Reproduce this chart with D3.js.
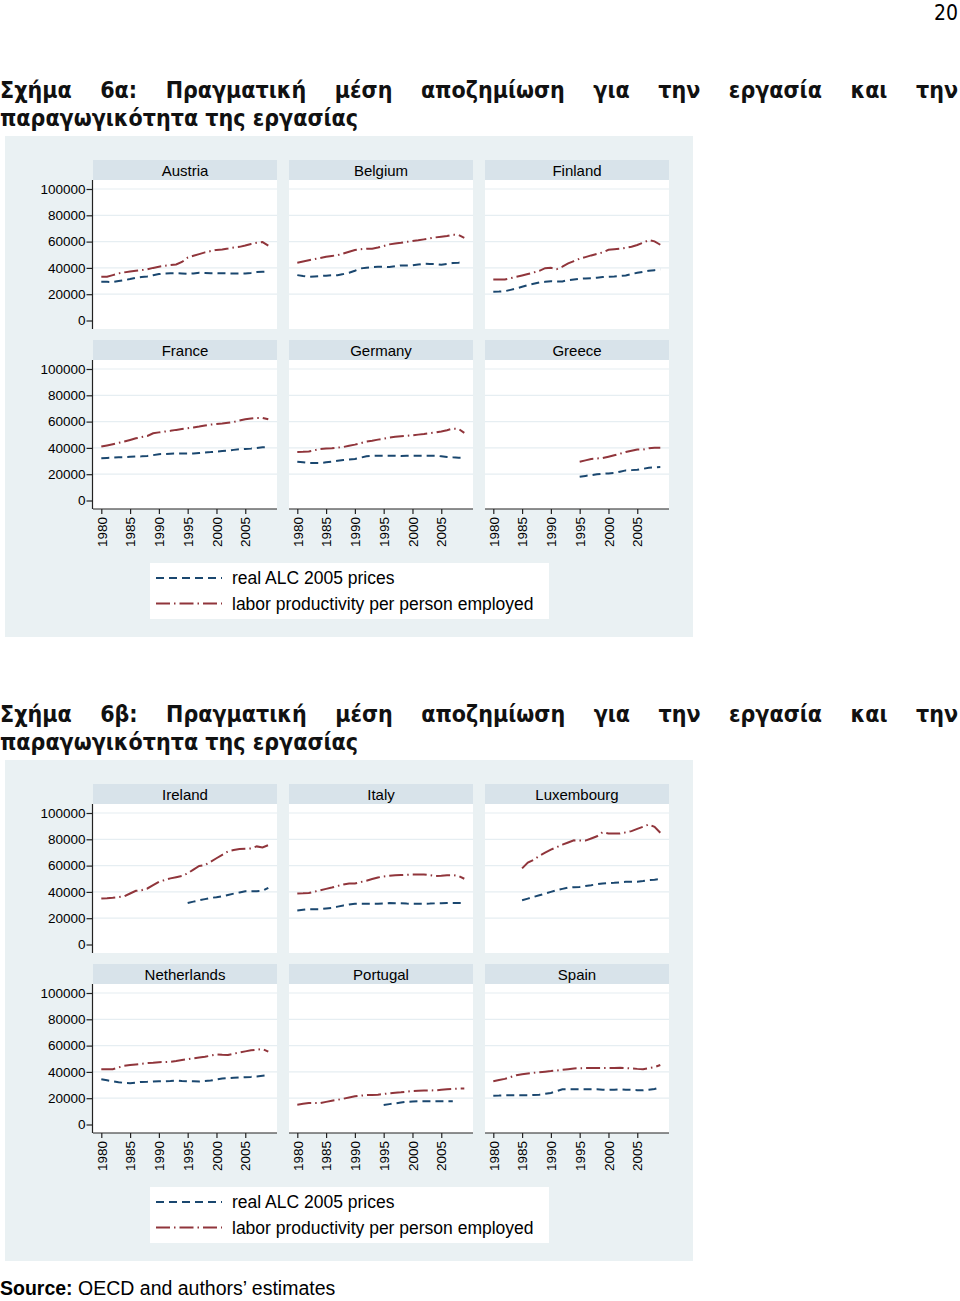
<!DOCTYPE html>
<html lang="el">
<head>
<meta charset="UTF-8">
<title>Σχήμα 6α - 6β</title>
<script src="https://cdn.jsdelivr.net/npm/d3@7/dist/d3.min.js"></script>
<style>
  body { margin: 0; background: #fff; }
  svg { display: block; }
</style>
</head>
<body>
<script>

let w = 960, h = 1301;

// years on the x axis, values in thousands
let years = d3.range(1980, 2010);
let xTicks = [1980, 1985, 1990, 1995, 2000, 2005];
let yTicks = [0, 20000, 40000, 60000, 80000, 100000];

let seriesNames = ["real ALC 2005 prices", "labor productivity per person employed"];

let countriesA = ["Austria", "Belgium", "Finland", "France", "Germany", "Greece"];
let countriesB = ["Ireland", "Italy", "Luxembourg", "Netherlands", "Portugal", "Spain"];

// labor productivity per person employed (thousands)
let lp = {
  Austria: [33.2,33.3,34.5,35.8,36.6,37.3,37.8,38.3,38.9,40.0,40.9,41.6,42.1,42.6,44.5,47.8,49.2,50.5,51.8,52.8,53.7,54.0,54.7,55.5,56.0,57.0,58.2,59.1,59.6,57.0],
  Belgium: [43.9,44.8,45.8,46.7,47.6,48.5,49.1,49.7,51.0,52.3,53.6,54.2,54.6,54.6,55.5,56.6,57.9,58.5,59.1,59.8,60.4,61.0,61.7,62.4,63.2,63.7,64.2,65.2,65.0,62.9],
  Finland: [31.2,31.2,31.2,32.2,33.2,34.2,35.3,36.5,37.8,39.8,40.1,39.1,40.9,43.4,45.2,47.0,48.2,49.5,50.6,51.8,53.8,54.2,54.6,55.3,56.1,57.4,59.1,61.2,60.2,57.6],
  France: [41.0,41.9,42.8,43.8,44.8,46.0,47.3,48.2,49.1,51.1,51.8,52.4,53.0,53.7,54.3,54.9,55.5,56.2,57.0,57.7,58.1,58.5,59.1,59.7,60.8,61.8,62.3,62.8,62.8,61.8],
  Germany: [36.9,37.0,37.2,38.2,39.2,39.5,39.7,40.2,40.7,41.6,42.5,43.6,44.8,45.5,46.3,47.0,47.8,48.4,48.9,49.2,49.6,50.1,50.6,51.2,51.7,52.5,53.4,54.7,54.5,51.4],
  Greece: [null,null,null,null,null,null,null,null,null,null,null,null,null,null,null,29.5,30.5,31.6,32.0,32.3,33.3,34.4,35.6,36.9,37.8,38.7,38.7,39.7,40.2,40.2],
  Ireland: [34.9,35.2,35.6,36.1,36.7,38.8,40.8,41.3,42.6,45.2,47.7,49.0,50.3,51.2,52.1,54.1,57.0,59.7,60.5,63.0,65.6,68.2,70.8,71.8,72.6,72.9,73.1,74.6,73.8,75.6],
  Italy: [38.7,38.9,39.2,40.2,41.3,42.3,43.3,44.5,45.6,46.4,46.4,47.5,48.5,49.8,51.0,51.7,52.3,52.6,52.8,53.0,53.3,53.3,53.3,52.7,52.1,52.3,52.6,52.8,52.1,50.0],
  Luxembourg: [null,null,null,null,null,57.9,62.3,64.4,67.4,69.8,72.1,74.0,75.9,77.6,79.2,79.1,79.0,80.6,82.3,85.4,84.4,84.4,84.4,85.3,86.2,87.9,89.5,91.3,89.5,85.0],
  Netherlands: [42.1,42.1,42.1,43.4,44.6,45.2,45.7,46.2,46.7,47.0,47.4,47.5,47.7,48.3,49.0,49.7,50.3,50.9,51.5,52.4,53.3,53.0,52.8,53.8,54.8,55.6,56.4,56.9,57.4,55.4],
  Portugal: [15.1,15.7,16.3,16.3,16.3,17.2,18.1,18.8,19.6,20.5,21.4,21.9,22.4,22.5,22.7,23.2,23.7,24.1,24.5,25.0,25.5,25.7,25.8,25.9,26.0,26.4,26.8,27.1,27.3,27.3],
  Spain: [32.9,33.8,34.7,36.1,37.5,38.2,38.8,39.3,39.8,40.2,40.6,41.1,41.6,42.1,42.6,42.8,42.9,42.9,42.9,42.9,42.9,43.0,43.1,42.9,42.6,42.3,42.1,42.8,43.6,45.2]
};

// real average labour compensation, 2005 prices (thousands)
let alc = {
  Austria: [29.4,29.4,29.3,30.0,30.7,31.5,32.5,33.0,33.5,34.4,35.3,35.8,36.0,36.0,35.8,35.5,35.8,36.3,36.2,36.0,36.0,35.9,35.8,35.8,35.8,35.8,36.2,36.8,37.0,37.1],
  Belgium: [34.5,33.8,33.2,33.5,33.8,34.1,34.5,34.5,35.3,36.3,37.8,39.6,40.2,40.6,40.8,40.9,40.6,41.2,41.9,41.9,41.9,42.5,43.1,43.0,42.9,42.4,43.0,43.7,44.0,44.4],
  Finland: [21.8,22.0,22.3,23.3,24.4,25.6,26.9,27.9,28.9,29.4,29.9,29.7,29.7,30.7,31.2,31.7,32.0,32.2,32.6,33.0,33.2,33.5,33.9,34.3,35.3,36.3,37.0,37.8,38.3,38.8],
  France: [32.2,32.4,32.6,32.9,33.0,33.2,33.4,33.6,33.9,34.5,35.2,35.4,35.6,35.7,35.7,35.7,35.7,36.1,36.5,36.8,37.2,37.6,38.0,38.5,39.0,39.2,39.5,40.0,40.5,40.5],
  Germany: [29.5,29.0,28.5,28.5,28.5,29.0,29.5,30.2,30.8,31.2,31.6,32.6,33.6,33.9,34.1,34.1,34.1,34.0,33.8,34.0,34.1,34.1,34.1,34.1,34.1,33.6,33.1,32.8,32.6,32.6],
  Greece: [null,null,null,null,null,null,null,null,null,null,null,null,null,null,null,18.1,18.7,19.3,19.9,20.4,20.6,20.9,21.9,22.9,23.1,23.4,24.1,24.9,25.2,25.4],
  Ireland: [null,null,null,null,null,null,null,null,null,null,null,null,null,null,null,31.5,32.6,33.6,34.5,35.4,36.0,36.7,37.7,38.7,39.6,40.5,40.5,40.5,40.8,43.1],
  Italy: [25.9,26.4,26.9,26.9,26.9,27.4,27.9,28.8,29.7,30.4,31.0,31.0,31.0,31.0,31.0,31.2,31.5,31.4,31.3,31.1,31.0,31.0,31.0,31.1,31.3,31.4,31.5,31.5,31.5,31.5],
  Luxembourg: [null,null,null,null,null,33.6,34.9,36.2,37.4,38.7,40.0,41.3,42.3,43.3,43.6,43.8,44.5,45.1,45.8,46.4,46.6,46.9,47.3,47.7,47.7,47.7,48.3,49.0,49.3,49.7],
  Netherlands: [34.4,33.6,32.9,32.2,31.6,31.4,31.9,32.4,32.5,32.7,32.8,32.9,33.1,33.4,33.1,32.9,32.8,32.7,33.0,33.4,34.2,34.9,35.2,35.5,35.8,36.0,36.2,36.5,37.0,37.5],
  Portugal: [null,null,null,null,null,null,null,null,null,null,null,null,null,null,null,14.8,15.5,16.1,16.7,17.3,17.5,17.6,17.6,17.6,17.6,17.6,17.6,17.6,null,null],
  Spain: [21.9,22.0,22.2,22.2,22.2,22.2,22.2,22.4,22.7,23.3,24.0,25.4,26.8,26.8,26.8,26.8,26.8,26.8,26.8,26.5,26.3,26.5,26.8,26.5,26.3,26.1,26.0,26.5,27.0,28.3]
};

let titleA = ["Σχήμα 6α: Πραγματική μέση αποζημίωση για την εργασία και την", "παραγωγικότητα της εργασίας"];
let titleB = ["Σχήμα 6β: Πραγματική μέση αποζημίωση για την εργασία και την", "παραγωγικότητα της εργασίας"];

let navy = "#1a476f", maroon = "#90353b";
let regionFill = "#eaf1f3", stripFill = "#d8e3ea", gridColor = "#e6eef2";
let axisFont = "'Liberation Sans', Arial, sans-serif";
let titleFont = "'Liberation Sans Narrow', 'DejaVu Sans Condensed', 'Roboto Condensed', sans-serif";

let svg = d3.select("body").append("svg")
  .attr("width", w)
  .attr("height", h);

// page number
svg.append("text")
  .attr("x", 958).attr("y", 20)
  .attr("text-anchor", "end")
  .style("font-family", titleFont)
  .style("font-size", "21px")
  .text("20");

function drawTitle(lines, oy) {
  // first line justified over the page width, second line left aligned
  let words = lines[0].split(" ");
  let g = svg.append("g")
    .style("font-family", titleFont)
    .style("font-weight", "bold")
    .style("font-size", "23px")
    .style("fill", "#111");
  let texts = words.map(function(wd) {
    return g.append("text").attr("y", 98 + oy).text(wd);
  });
  let widths = texts.map(function(t) { return t.node().getComputedTextLength(); });
  let gap = (958 - d3.sum(widths)) / (words.length - 1);
  let x = 0;
  texts.forEach(function(t, i) {
    t.attr("x", x);
    x += widths[i] + gap;
  });
  g.append("text").attr("x", 0).attr("y", 126 + oy).text(lines[1]);
}

function drawFigure(countries, oy) {
  let colX = [93, 289, 485], panelW = 184;
  let rowTop = [160 + oy, 340 + oy];

  svg.append("rect")
    .attr("x", 5).attr("y", 136 + oy)
    .attr("width", 688).attr("height", 501)
    .attr("fill", regionFill);

  countries.forEach(function(name, i) {
    let col = i % 3, row = Math.floor(i / 3);
    let px = colX[col], top = rowTop[row];
    let plotTop = top + 20, plotBottom = top + 169;

    let xScale = d3.scaleLinear().domain([1980, 2009]).range([px + 8.3, px + 175.3]);
    let yScale = d3.scaleLinear().domain([0, 100000]).range([top + 160.5, top + 29]);

    let g = svg.append("g");

    // strip header
    g.append("rect")
      .attr("x", px).attr("y", top)
      .attr("width", panelW).attr("height", 20)
      .attr("fill", stripFill);
    g.append("text")
      .attr("x", px + panelW / 2).attr("y", top + 15.5)
      .attr("text-anchor", "middle")
      .style("font-family", axisFont)
      .style("font-size", "15px")
      .text(name);

    // plot region
    g.append("rect")
      .attr("x", px).attr("y", plotTop)
      .attr("width", panelW).attr("height", plotBottom - plotTop)
      .attr("fill", "#fff");

    g.selectAll("line.grid")
      .data(yTicks.slice(1))
      .enter()
      .append("line")
      .attr("class", "grid")
      .attr("x1", px).attr("x2", px + panelW)
      .attr("y1", function(d) { return yScale(d); })
      .attr("y2", function(d) { return yScale(d); })
      .attr("stroke", gridColor)
      .attr("stroke-width", 1.2);

    // lines
    let line = d3.line()
      .defined(function(d) { return d[1] != null; })
      .x(function(d) { return xScale(d[0]); })
      .y(function(d) { return yScale(d[1] * 1000); });

    g.append("path")
      .datum(years.map(function(y, k) { return [y, alc[name][k]]; }))
      .attr("d", line)
      .attr("fill", "none")
      .attr("stroke", navy)
      .attr("stroke-width", 2)
      .attr("stroke-dasharray", "8,5");

    g.append("path")
      .datum(years.map(function(y, k) { return [y, lp[name][k]]; }))
      .attr("d", line)
      .attr("fill", "none")
      .attr("stroke", maroon)
      .attr("stroke-width", 2)
      .attr("stroke-dasharray", "14,4,1.5,4");

    // y axis on the left column
    if (col === 0) {
      let yAxis = d3.axisLeft(yScale)
        .tickValues(yTicks)
        .tickSize(6)
        .tickPadding(1)
        .tickFormat(d3.format("d"));
      let ya = g.append("g")
        .attr("transform", "translate(" + (px - 0.5) + ",0)")
        .call(yAxis);
      ya.select(".domain").attr("d", "M0," + plotTop + "V" + plotBottom);
      ya.selectAll("text")
        .style("font-family", axisFont)
        .style("font-size", "13.5px")
        .attr("fill", "#000");
      ya.selectAll("line, path").attr("stroke", "#222").attr("stroke-width", 1.2);
    }

    // x axis on the bottom row
    if (row === 1) {
      let xAxis = d3.axisBottom(xScale)
        .tickValues(xTicks)
        .tickSize(5)
        .tickFormat(d3.format("d"));
      let xa = g.append("g")
        .attr("transform", "translate(0," + plotBottom + ")")
        .call(xAxis);
      xa.select(".domain").attr("d", "M" + px + ",0H" + (px + panelW));
      xa.selectAll("line, path").attr("stroke", "#222").attr("stroke-width", 1.2);
      xa.selectAll("text")
        .attr("transform", "rotate(-90)")
        .attr("x", -8).attr("y", 0)
        .attr("dy", "0.35em")
        .attr("text-anchor", "end")
        .style("font-family", axisFont)
        .style("font-size", "13.5px")
        .attr("fill", "#000");
    }
  });

  // legend
  let lg = svg.append("g");
  lg.append("rect")
    .attr("x", 150).attr("y", 563 + oy)
    .attr("width", 399).attr("height", 56)
    .attr("fill", "#fff");
  let styles = [{ c: navy, dash: "8,5" }, { c: maroon, dash: "14,4,1.5,4" }];
  seriesNames.forEach(function(s, i) {
    let y = 578 + oy + i * 25.5;
    lg.append("line")
      .attr("x1", 156).attr("x2", 222)
      .attr("y1", y).attr("y2", y)
      .attr("stroke", styles[i].c)
      .attr("stroke-width", 2)
      .attr("stroke-dasharray", styles[i].dash);
    lg.append("text")
      .attr("x", 232).attr("y", y + 6)
      .style("font-family", axisFont)
      .style("font-size", "17.5px")
      .text(s);
  });
}

drawTitle(titleA, 0);
drawFigure(countriesA, 0);
drawTitle(titleB, 624);
drawFigure(countriesB, 624);

// source note
let src = svg.append("text")
  .attr("x", 0).attr("y", 1295)
  .style("font-family", axisFont)
  .style("font-size", "19.5px");
src.append("tspan").style("font-weight", "bold").text("Source:");
src.append("tspan").text(" OECD and authors’ estimates");

</script>
</body>
</html>
